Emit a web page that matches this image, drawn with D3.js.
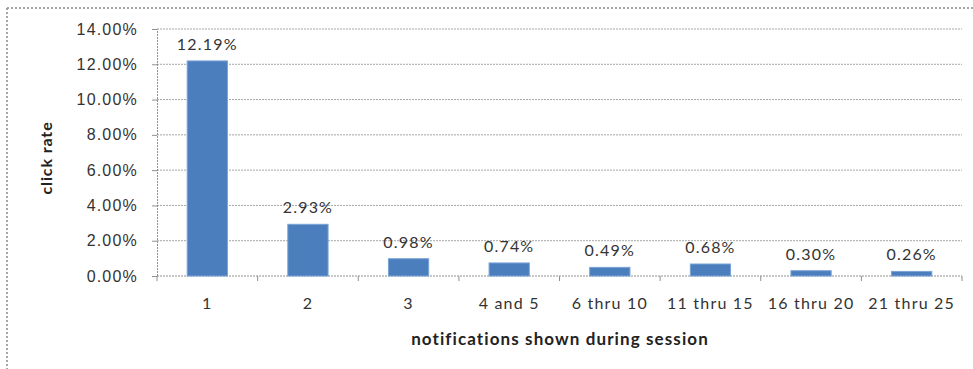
<!DOCTYPE html>
<html>
<head>
<meta charset="utf-8">
<script src="https://cdn.jsdelivr.net/npm/d3@7"></script>
<style>
  html, body { margin: 0; padding: 0; background: #fff; }
  svg { display: block; font-family: Lato, "Open Sans", sans-serif; }
  .lbl { font-size: 16px; letter-spacing: 1.2px; fill: #333; }
  .ttl { font-size: 17px; letter-spacing: 1.1px; font-weight: bold; fill: #222; }
</style>
</head>
<body>
<svg id="chart" width="973" height="369"></svg>
<script>
// Click rate by number of notifications shown in a session
const categories = ["1", "2", "3", "4 and 5", "6 thru 10", "11 thru 15", "16 thru 20", "21 thru 25"];
const clickRates = [12.19, 2.93, 0.98, 0.74, 0.49, 0.68, 0.30, 0.26];
const yTicks = [0, 2, 4, 6, 8, 10, 12, 14];

const svg = d3.select("#chart");
const plotLeft = 157, plotWidth = 805;

// dotted outer frame (top and left edges visible)
svg.append("line").attr("x1", 7).attr("x2", 973).attr("y1", 8).attr("y2", 8)
  .attr("stroke", "#8a8a8a").attr("stroke-width", 1.5).attr("stroke-dasharray", "2,2");
svg.append("line").attr("x1", 7).attr("x2", 7).attr("y1", 8).attr("y2", 369)
  .attr("stroke", "#8a8a8a").attr("stroke-width", 1.5).attr("stroke-dasharray", "2,2");

const x = d3.scaleBand().domain(categories)
  .range([plotLeft, plotLeft + plotWidth]).paddingInner(0.6).paddingOuter(0.3);
const y = d3.scaleLinear().domain([0, 14]).range([276, 29]);

// horizontal gridlines
svg.append("g").selectAll("line").data(yTicks.filter(d => d > 0)).join("line")
  .attr("x1", plotLeft).attr("x2", plotLeft + plotWidth)
  .attr("y1", d => y(d)).attr("y2", d => y(d))
  .attr("stroke", "#a6a6a6").attr("stroke-width", 1).attr("stroke-dasharray", "2,1");

// y axis
const yAxis = svg.append("g").attr("transform", `translate(${plotLeft},0)`)
  .call(d3.axisLeft(y).tickValues(yTicks).tickFormat(d => d.toFixed(2) + "%").tickSize(5).tickPadding(14));
yAxis.select(".domain").attr("stroke", "#909090").attr("stroke-dasharray", "2,1");
yAxis.selectAll(".tick line").attr("stroke", "#909090");
yAxis.selectAll("text").attr("class", "lbl").attr("font-size", null).attr("font-family", null).attr("fill", null);

// x axis with tick marks on the category boundaries
const xAxisG = svg.append("g").attr("transform", `translate(0,${y(0)})`);
xAxisG.append("line").attr("x1", plotLeft).attr("x2", plotLeft + plotWidth)
  .attr("stroke", "#909090").attr("stroke-dasharray", "2,1");
xAxisG.selectAll("line.tk").data(d3.range(categories.length + 1)).join("line").attr("class", "tk")
  .attr("x1", i => plotLeft + i * plotWidth / categories.length)
  .attr("x2", i => plotLeft + i * plotWidth / categories.length)
  .attr("y1", 0).attr("y2", 5).attr("stroke", "#909090");
xAxisG.selectAll("text").data(categories).join("text")
  .attr("class", "lbl")
  .attr("x", d => x(d) + x.bandwidth() / 2).attr("y", 33)
  .attr("text-anchor", "middle")
  .text(d => d);

// bars
svg.append("g").selectAll("rect").data(categories).join("rect")
  .attr("x", d => x(d)).attr("width", x.bandwidth())
  .attr("y", (d, i) => y(clickRates[i]))
  .attr("height", (d, i) => y(0) - y(clickRates[i]))
  .attr("fill", "#4a7ebd").attr("stroke", "#7aa3d6").attr("stroke-width", 1);

// value labels
svg.append("g").selectAll("text").data(categories).join("text")
  .attr("class", "lbl")
  .attr("x", d => x(d) + x.bandwidth() / 2)
  .attr("y", (d, i) => y(clickRates[i]) - 11)
  .attr("text-anchor", "middle")
  .text((d, i) => clickRates[i].toFixed(2) + "%");

// axis titles
svg.append("text").attr("class", "ttl").attr("x", 560).attr("y", 345).attr("text-anchor", "middle")
  .text("notifications shown during session");
svg.append("text").attr("class", "ttl").attr("transform", "translate(52,158) rotate(-90)").attr("text-anchor", "middle")
  .style("letter-spacing", "0.9px").style("font-size", "16px")
  .text("click rate");
</script>
</body>
</html>
